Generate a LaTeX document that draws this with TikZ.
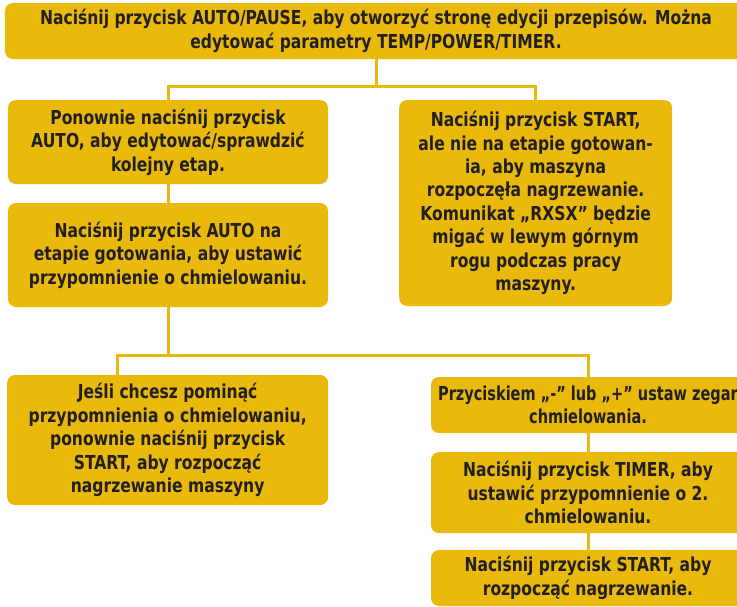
\documentclass[tikz,border=0pt]{standalone}
\usepackage{fontspec}
\newfontfamily\boxfont{DejaVu Sans Condensed Bold}[FakeStretch=0.9]
\newfontfamily\narrowboxfont{DejaVu Sans Condensed Bold}[FakeStretch=0.84]
\definecolor{boxyellow}{RGB}{233,185,12}
\definecolor{boxtext}{RGB}{35,31,32}

\begin{document}
\begin{tikzpicture}[
  stepbox/.style={rectangle, rounded corners=2.4mm, fill=boxyellow, text=boxtext, align=center, inner sep=0pt, font=\boxfont\fontsize{16.4}{20}\selectfont},
  link/.style={draw=boxyellow, line width=0.09cm}
]
\useasboundingbox (0,0) rectangle (22.11,-18.18);
\clip (0,0) rectangle (22.11,-18.18);
\node[stepbox, minimum width=22.26cm, minimum height=1.68cm] (edit) at (11.28,-0.93) {Naciśnij przycisk AUTO/PAUSE, aby otworzyć stronę edycji przepisów. Można\\edytować parametry TEMP/POWER/TIMER.};
\node[stepbox, minimum width=9.6cm, minimum height=2.52cm] (again) at (5.04,-4.26) {Ponownie naciśnij przycisk\\AUTO, aby edytować/sprawdzić\\kolejny etap.};
\node[stepbox, minimum width=9.6cm, minimum height=3.12cm] (remind) at (5.04,-7.65) {Naciśnij przycisk AUTO na\\etapie gotowania, aby ustawić\\przypomnienie o chmielowaniu.};
\node[stepbox, minimum width=8.19cm, minimum height=6.18cm] (start) at (16.07,-6.09) {Naciśnij przycisk START,\\ale nie na etapie gotowan-\\ia, aby maszyna\\rozpoczęła nagrzewanie.\\Komunikat „RXSX” będzie\\migać w lewym górnym\\rogu podczas pracy\\maszyny.};
\node[stepbox, minimum width=9.63cm, minimum height=3.9cm] (skip) at (5.03,-13.2) {Jeśli chcesz pominąć\\przypomnienia o chmielowaniu,\\ponownie naciśnij przycisk\\START, aby rozpocząć\\nagrzewanie maszyny};
\node[stepbox, minimum width=9.42cm, minimum height=1.68cm, font=\narrowboxfont\fontsize{16.4}{20}\selectfont] (zegar) at (17.64,-12.15) {Przyciskiem „-” lub „+” ustaw zegar\\chmielowania.};
\node[stepbox, minimum width=9.42cm, minimum height=2.43cm] (timer) at (17.64,-14.78) {Naciśnij przycisk TIMER, aby\\ustawić przypomnienie o 2.\\chmielowaniu.};
\node[stepbox, minimum width=9.42cm, minimum height=1.68cm] (heat) at (17.64,-17.34) {Naciśnij przycisk START, aby\\rozpocząć nagrzewanie.};
% connectors
\coordinate (j1) at (11.28,-2.58);
\coordinate (j2) at (5.04,-10.65);
\draw[link] (edit) -- (j1);
\draw[link] (again) |- (j1) -| (start);
\draw[link] (again) -- (remind);
\draw[link] (remind) -- (j2);
\draw[link] ([xshift=-1.5cm]skip.north) |- (j2) -| (zegar);
\draw[link] (zegar) -- (timer);
\draw[link] (timer) -- (heat);
\end{tikzpicture}
\end{document}
